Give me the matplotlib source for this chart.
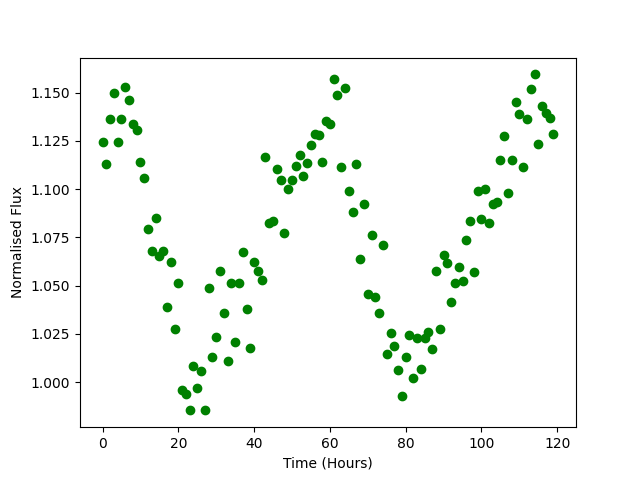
import matplotlib
matplotlib.use("Agg")
import matplotlib.pyplot as plt

# hourly observations, 0..119
time_hours = list(range(120))

flux = [
    1.1243, 1.1128, 1.1362, 1.1497, 1.1243, 1.1362, 1.1528, 1.1461, 1.1338, 1.1305,
    1.1139, 1.1056, 1.0791, 1.0677, 1.0848, 1.0656, 1.0682, 1.0391, 1.0620, 1.0277,
    1.0516, 0.9961, 0.9940, 0.9857, 1.0085, 0.9971, 1.0059, 0.9853, 1.0485, 1.0132,
    1.0236, 1.0578, 1.0360, 1.0111, 1.0516, 1.0210, 1.0516, 1.0672, 1.0381, 1.0179,
    1.0620, 1.0578, 1.0531, 1.1165, 1.0822, 1.0833, 1.1102, 1.1050, 1.0775, 1.0999,
    1.1047, 1.1121, 1.1175, 1.1066, 1.1134, 1.1227, 1.1286, 1.1279, 1.1139, 1.1353,
    1.1338, 1.1570, 1.1486, 1.1113, 1.1523, 1.0988, 1.0884, 1.1128, 1.0640, 1.0921,
    1.0454, 1.0760, 1.0443, 1.0360, 1.0708, 1.0147, 1.0256, 1.0189, 1.0064, 0.9929,
    1.0132, 1.0246, 1.0023, 1.0230, 1.0070, 1.0230, 1.0262, 1.0173, 1.0578, 1.0277,
    1.0661, 1.0615, 1.0417, 1.0511, 1.0599, 1.0526, 1.0734, 1.0833, 1.0568, 1.0988,
    1.0843, 1.0999, 1.0822, 1.0921, 1.0936, 1.1149, 1.1274, 1.0978, 1.1149, 1.1450,
    1.1388, 1.1113, 1.1362, 1.1518, 1.1595, 1.1232, 1.1429, 1.1393, 1.1367, 1.1284,
]

fig = plt.figure(figsize=(6.4, 4.8), dpi=100)
plt.plot(time_hours, flux, "go")
plt.xlabel("Time (Hours)")
plt.ylabel("Normalised Flux")
plt.savefig("out.png")
plt.close(fig)
